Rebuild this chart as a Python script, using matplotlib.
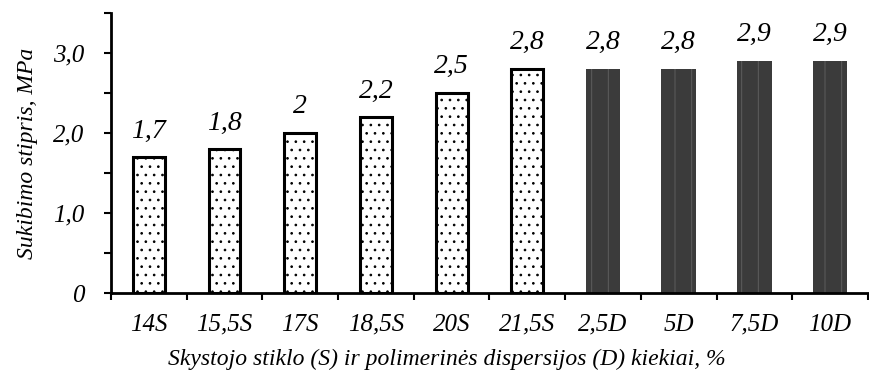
import numpy as np
from matplotlib import pyplot as plt
from matplotlib.ticker import MultipleLocator, FixedLocator

categories = ["14S", "15,5S", "17S", "18,5S", "20S", "21,5S", "2,5D", "5D", "7,5D", "10D"]
strength = [1.7, 1.8, 2.0, 2.2, 2.5, 2.8, 2.8, 2.8, 2.9, 2.9]
is_dispersion = [False] * 6 + [True] * 4

plt.rcParams["font.family"] = ["Liberation Serif", "DejaVu Serif"]
plt.rcParams["font.style"] = "italic"
plt.rcParams["hatch.linewidth"] = 0.7

fig = plt.figure(figsize=(8.7, 3.76), dpi=100)
ax = fig.add_axes([0.1276, 0.2207, 0.870, 0.7453])

x = np.arange(len(categories))
for xi, val, disp in zip(x, strength, is_dispersion):
    if disp:
        ax.bar(xi, val, width=0.46, color="#3b3b3b", edgecolor="#5e5e5e",
               hatch="|", linewidth=0)
    else:
        ax.bar(xi, val, width=0.42, color="white", edgecolor="black",
               hatch="..", linewidth=2.2)
    label = f"{val:g}".replace(".", ",")
    ax.annotate(label, (xi, val), xytext=(0, 14), textcoords="offset points",
                ha="center", va="baseline", fontsize=20)

ax.set_xlim(-0.5, len(categories) - 0.5)
ax.set_ylim(0, 3.5)

ax.set_xticks(x)
ax.set_xticklabels(categories, fontsize=18)
ax.xaxis.set_minor_locator(FixedLocator(np.arange(-0.5, len(categories), 1)))
ax.tick_params(axis="x", which="major", length=0, pad=15)
ax.tick_params(axis="x", which="minor", length=5, width=1.5, direction="out")

ax.set_yticks([0, 1, 2, 3])
ax.set_yticklabels(["0", "1,0", "2,0", "3,0"], fontsize=18)
ax.yaxis.set_minor_locator(MultipleLocator(0.5))
ax.tick_params(axis="y", which="both", length=5, width=1.5, direction="out", pad=14)

for side in ["top", "right"]:
    ax.spines[side].set_visible(False)
for side in ["left", "bottom"]:
    ax.spines[side].set_linewidth(2)

ax.set_ylabel("Sukibimo stipris, MPa", fontsize=17)
ax.yaxis.set_label_coords(-0.097, 0.5)
ax.set_xlabel("Skystojo stiklo (S) ir polimerinės dispersijos (D) kiekiai, %", fontsize=17)
ax.xaxis.set_label_coords(0.443, -0.2)

fig.savefig("out.png", dpi=100)
